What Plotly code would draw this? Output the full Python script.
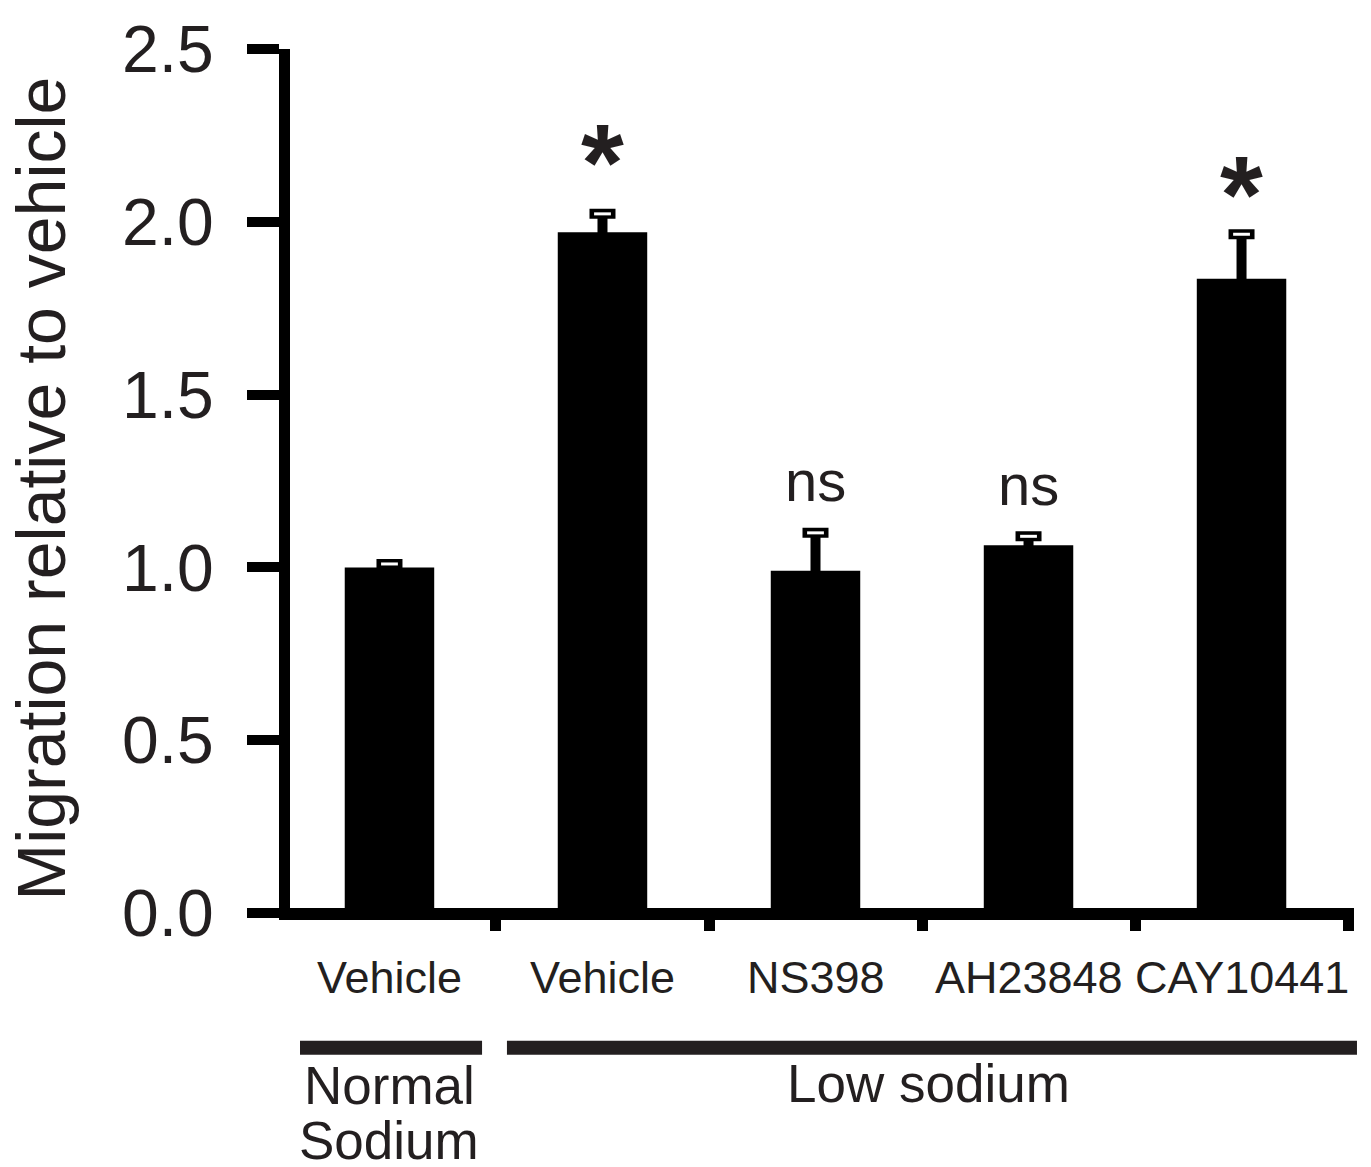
import plotly.graph_objects as go

# ---- data ----
categories = ["Vehicle", "Vehicle", "NS398", "AH23848", "CAY10441"]
values = [1.00, 1.97, 0.99, 1.064, 1.835]
errors = [0.01, 0.053, 0.11, 0.026, 0.129]
significance = ["", "*", "ns", "ns", "*"]
y_ticks = [0.0, 0.5, 1.0, 1.5, 2.0, 2.5]
y_tick_labels = ["0.0", "0.5", "1.0", "1.5", "2.0", "2.5"]
group_labels = [["Normal", "Sodium"], ["Low sodium"]]

FONT = "Liberation Sans, Arial, Helvetica, sans-serif"
TXT = "#231f20"
# vertical offset (px) of each significance mark above its error-bar cap
mark_shift = [0, 52, 52, 52, 41]

x = list(range(len(categories)))
tops = [v + e for v, e in zip(values, errors)]

fig = go.Figure()
fig.add_trace(go.Bar(
    x=x, y=values, width=0.42,
    marker=dict(color="black", line=dict(width=0)),
    error_y=dict(type="data", array=errors, arrayminus=errors, symmetric=False,
                 color="black", thickness=10, width=13),
    showlegend=False, hoverinfo="skip",
))
# white inner slit of the hollow caps
fig.add_trace(go.Scatter(
    x=x, y=tops, mode="markers",
    marker=dict(symbol="line-ew", size=12, line=dict(color="white", width=3)),
    showlegend=False, hoverinfo="skip",
))

annotations = []
for i, (s, t) in enumerate(zip(significance, tops)):
    if not s:
        continue
    if s == "*":
        annotations.append(dict(x=i, y=t, xref="x", yref="y", text="<b>*</b>",
                                showarrow=False, yanchor="middle", yshift=mark_shift[i],
                                font=dict(family=FONT, size=110, color=TXT)))
    else:
        annotations.append(dict(x=i, y=t, xref="x", yref="y", text=s,
                                showarrow=False, yanchor="middle", yshift=mark_shift[i],
                                font=dict(family=FONT, size=58, color=TXT)))

for i, c in enumerate(categories):
    annotations.append(dict(x=i, y=0, xref="x", yref="paper", text=c,
                            showarrow=False, yanchor="middle", yshift=-59,
                            font=dict(family=FONT, size=45, color=TXT)))

# group bars under the category labels (paper coordinates)
group_lines = [(0.0094, 0.1805), (0.2039, 1.0028)]
shapes = []
for x0, x1 in group_lines:
    shapes.append(dict(type="line", xref="paper", yref="paper", x0=x0, x1=x1,
                       y0=-0.1494, y1=-0.1494, line=dict(color=TXT, width=14)))

annotations.append(dict(x=0, y=0, xref="x", yref="paper", text=group_labels[0][0],
                        showarrow=False, yanchor="middle", yshift=-167,
                        font=dict(family=FONT, size=53, color=TXT)))
annotations.append(dict(x=0, y=0, xref="x", yref="paper", text=group_labels[0][1],
                        showarrow=False, yanchor="middle", yshift=-222,
                        font=dict(family=FONT, size=53, color=TXT)))
annotations.append(dict(x=2.53, y=0, xref="x", yref="paper", text=group_labels[1][0],
                        showarrow=False, yanchor="middle", yshift=-165,
                        font=dict(family=FONT, size=53, color=TXT)))

annotations.append(dict(x=0, y=0.5, xref="paper", yref="paper",
                        text="Migration relative to vehicle", textangle=-90,
                        showarrow=False, xanchor="center", yanchor="middle",
                        xshift=-250, yshift=-5,
                        font=dict(family=FONT, size=68, color=TXT)))

fig.update_layout(
    width=1371, height=1167,
    margin=dict(l=290, r=17, t=41, b=249),
    paper_bgcolor="white", plot_bgcolor="white",
    xaxis=dict(range=[-0.467, 4.528], tickmode="array",
               tickvals=[i - 0.5 for i in range(len(categories) + 1)],
               showticklabels=False, ticks="outside", ticklen=11, tickwidth=11,
               tickcolor="black", showline=True, linewidth=2, linecolor="black",
               showgrid=False, zeroline=False, fixedrange=True),
    yaxis=dict(range=[-0.0144, 2.5], tickmode="array", tickvals=y_ticks,
               ticktext=y_tick_labels, ticks="outside", ticklen=32, tickwidth=10,
               tickcolor="black", showline=True, linewidth=11, linecolor="black",
               showgrid=False, zeroline=True, zerolinewidth=10, zerolinecolor="black",
               ticklabelstandoff=20,
               tickfont=dict(family=FONT, size=66, color=TXT), fixedrange=True),
    annotations=annotations,
    shapes=shapes,
)

fig.write_html("out.html", config={"displayModeBar": False},
               post_script="document.body.style.margin='0';")
